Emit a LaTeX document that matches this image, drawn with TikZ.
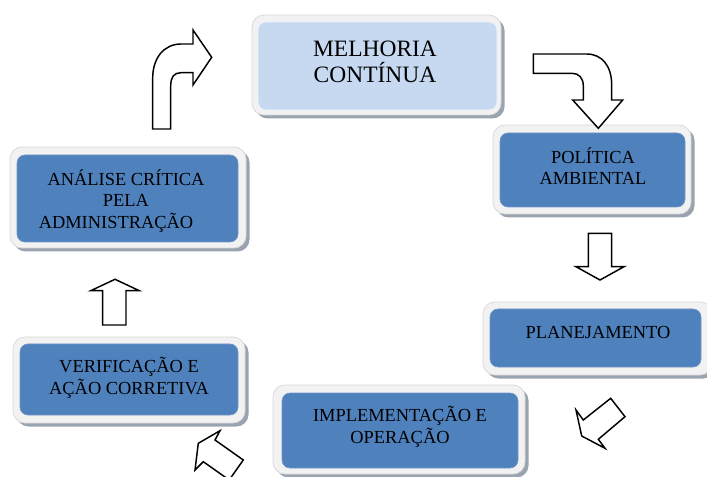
\documentclass[tikz,border=0pt]{standalone}
\usepackage{fontspec}
\setmainfont{Liberation Serif}
\definecolor{boxblue}{HTML}{4F81BD}
\definecolor{boxlight}{HTML}{C6D9F1}
\definecolor{framefill}{HTML}{F2F2F2}
\definecolor{frameline}{HTML}{DADADA}
\definecolor{shadowc}{HTML}{9AA3B0}
\definecolor{bluedge}{HTML}{7096C8}
\tikzset{
  shadowbox/.style={fill=shadowc, rounded corners=9pt},
  framebox/.style={fill=framefill, draw=frameline, line width=0.6pt, rounded corners=9pt},
  darkbox/.style={fill=boxblue, draw=bluedge, line width=0.5pt, rounded corners=6pt},
  lightbox/.style={fill=boxlight, draw=white!70!boxlight, line width=0.5pt, rounded corners=6pt},
  txt/.style={align=center, font=\fontsize{13.8pt}{16.3pt}\selectfont, inner sep=0pt},
  bigtxt/.style={align=center, font=\fontsize{17.6pt}{20pt}\selectfont, inner sep=0pt},
  blockarrow/.style={draw=black, fill=white, line width=1.1pt, line join=miter},
}
\newcommand\drawpanel[9]{%
  \fill[shadowbox] ({#1+3.5},{#2+3.5}) rectangle ({#3+3.5},{#4+3.5});
  \draw[framebox] (#1,#2) rectangle (#3,#4);
  \draw[#9] (#5,#6) rectangle (#7,#8);
}
\begin{document}
\begin{tikzpicture}[x=0.75pt,y=-0.75pt]
\useasboundingbox[fill=white] (0,0) rectangle (707,477);
\clip (0,0) rectangle (707,477);

% panels
\drawpanel{252}{15}{501}{115}{258}{22}{497}{110}{lightbox}
\drawpanel{493}{125}{691}{214}{500}{133}{685}{207}{darkbox}
\drawpanel{483}{302}{712}{375}{490}{309}{701}{367}{darkbox}
\drawpanel{273}{385}{525}{474}{282}{393}{518}{468}{darkbox}
\drawpanel{13}{337}{245}{423}{20}{344}{238}{415}{darkbox}
\drawpanel{10}{147}{246}{248}{17}{155}{238}{242}{darkbox}

% texts
\node[bigtxt] (mel) at (375,62) {MELHORIA\\CONTÍNUA};
\node[txt] (pol) at (593,166) {POLÍTICA\\AMBIENTAL};
\node[txt] (pla) at (598,332) {PLANEJAMENTO};
\node[txt] (imp) at (400,426.5) {IMPLEMENTAÇÃO E\\OPERAÇÃO};
\node[txt] (ver) at (129,378) {VERIFICAÇÃO E\\AÇÃO CORRETIVA};
\node[txt] (ana) at (126,201) {ANÁLISE CRÍTICA\\PELA\\ADMINISTRAÇÃO\hspace*{15pt}};

% arrows
\draw[blockarrow] (152.7,129) -- (170.7,129) -- (170.7,86)
  .. controls (170.7,77) and (174,72.7) .. (181,72.7) -- (193,72.7) -- (193,85)
  -- (211.7,57.3) -- (193,30) -- (193,44) -- (181,44)
  .. controls (164,44) and (152.7,58) .. (152.7,78) -- cycle;

\draw[blockarrow] (533.3,54) -- (586.7,54)
  .. controls (602,54) and (611.7,66) .. (611.7,85) -- (611.7,100) -- (622.7,100)
  -- (598.3,128.3) -- (572.7,100) -- (583.3,100) -- (583.3,86)
  .. controls (583.3,78) and (579,73.3) .. (572,73.3) -- (533.3,73.3) -- cycle;

\draw[blockarrow] (588.3,233.3) -- (611.7,233.3) -- (611.7,266.7) -- (624,266.7)
  -- (600,280) -- (576,266.7) -- (588.3,266.7) -- cycle;

\draw[blockarrow] (576,410) -- (583.3,420) -- (610.7,398.3) -- (625,416.7)
  -- (598.3,439.3) -- (605,448.3) -- (581.7,436) -- cycle;

\draw[blockarrow] (198.3,443.3) -- (220,430.7) -- (215,440) -- (243.3,460)
  -- (229.2,480) -- (203.3,461.7) -- (195,470) -- cycle;

\draw[blockarrow] (102.7,325) -- (126,325) -- (126,290.7) -- (139.3,290.7)
  -- (115,279.3) -- (90.7,290.7) -- (102.7,290.7) -- cycle;
\end{tikzpicture}
\end{document}
